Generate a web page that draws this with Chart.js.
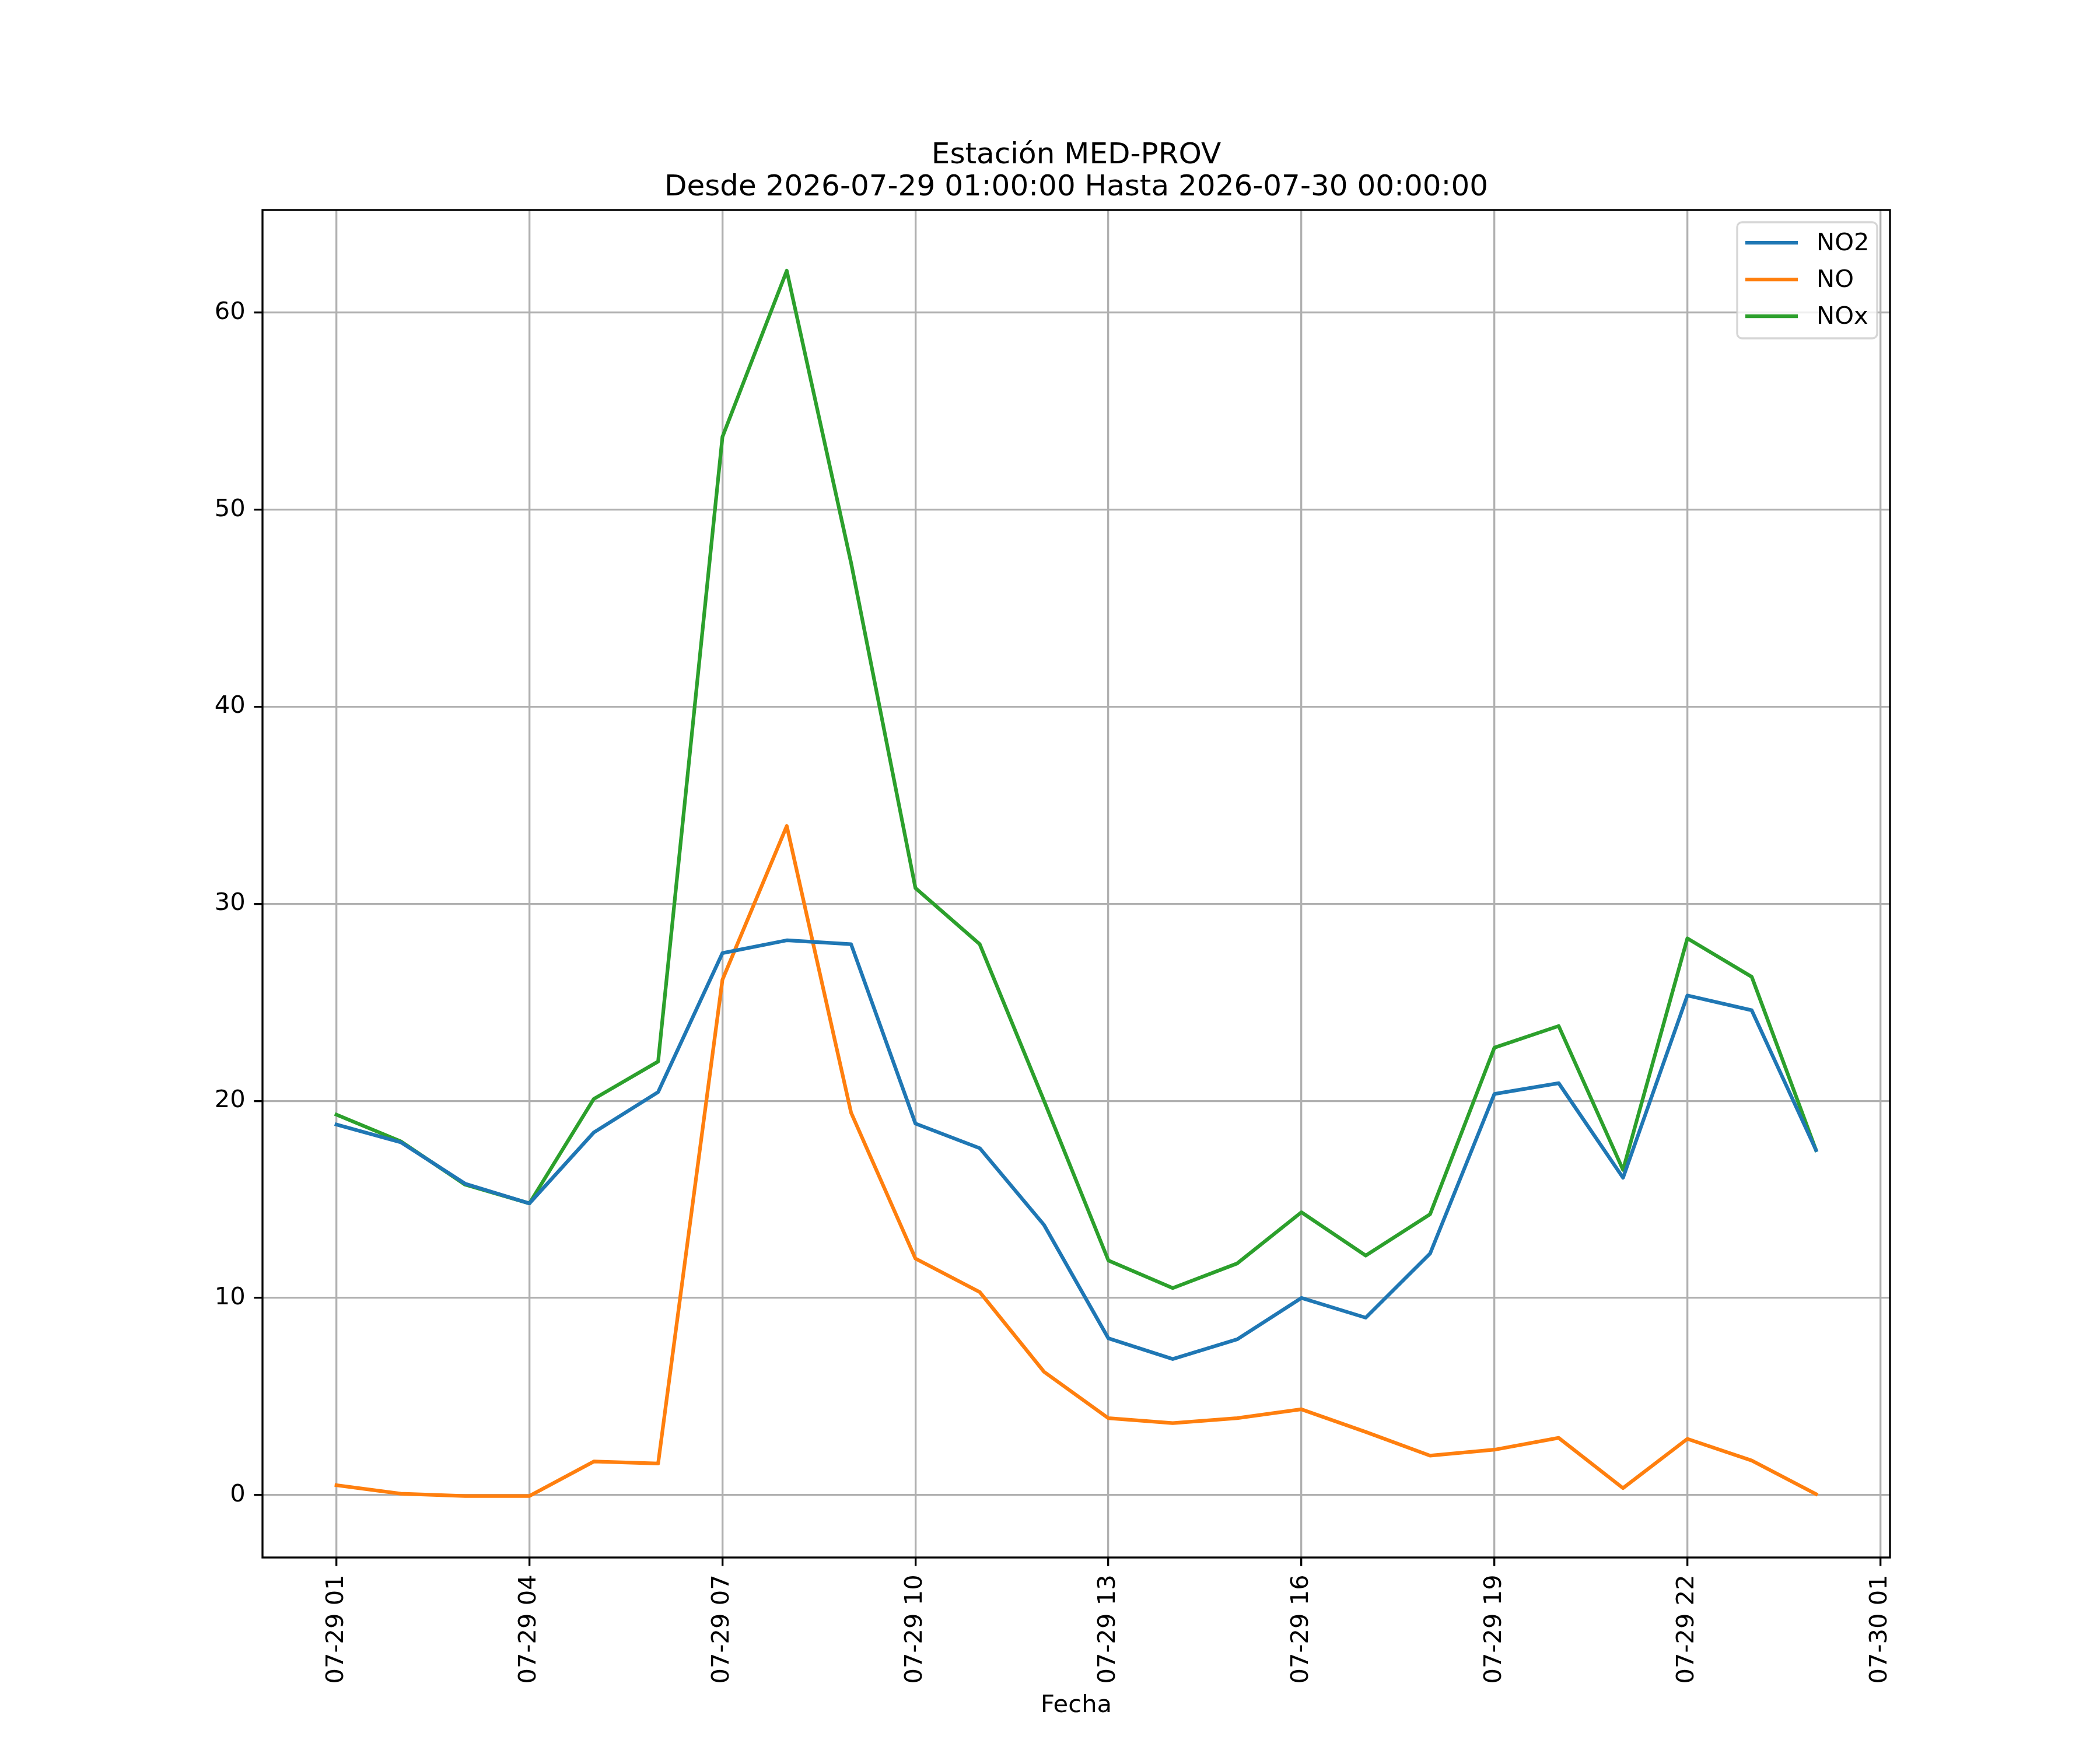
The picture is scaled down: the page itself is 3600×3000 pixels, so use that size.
<!DOCTYPE html>
<html>
<head>
<meta charset="utf-8">
<script src="https://cdn.jsdelivr.net/npm/chart.js@4.4.1/dist/chart.umd.min.js"></script>
<style>
  html, body { margin: 0; padding: 0; background: #fff; }
  #wrap { width: 3600px; height: 3000px; }
</style>
</head>
<body>
<div id="wrap"><canvas id="chart" width="3600" height="3000"></canvas></div>
<script>
// hours since 07-29 00:00
const hours = [1,2,3,4,5,6,7,8,9,10,11,12,13,14,15,16,17,18,19,20,21,22,23,24];
const no2 = [18.8,17.9,15.8,14.8,18.4,20.45,27.5,28.15,27.95,18.85,17.6,13.7,7.95,6.9,7.9,10.0,9.0,12.25,20.35,20.9,16.1,25.35,24.6,17.5];
const no  = [0.5,0.07,-0.05,-0.05,1.7,1.6,26.15,33.95,19.4,12.0,10.3,6.25,3.9,3.65,3.9,4.35,3.2,2.0,2.3,2.9,0.35,2.85,1.75,0.05];
const nox = [19.3,17.95,15.75,14.8,20.1,22.0,53.7,62.13,47.3,30.8,27.95,20.0,11.9,10.5,11.75,14.35,12.15,14.25,22.7,23.8,16.5,28.25,26.3,17.5];

const seriesNames = ['NO2', 'NO', 'NOx'];
const seriesColors = ['#1f77b4', '#ff7f0e', '#2ca02c'];

const xTickHours = [1,4,7,10,13,16,19,22,25];
const xTickLabels = ['07-29 01','07-29 04','07-29 07','07-29 10','07-29 13','07-29 16','07-29 19','07-29 22','07-30 01'];
const yTicks = [0,10,20,30,40,50,60];

const titleLines = ['Estación MED-PROV', 'Desde 2026-07-29 01:00:00 Hasta 2026-07-30 00:00:00'];
const xTitle = 'Fecha';

const FONT = 'DejaVu Sans';
const PT = 300 / 72;

function pts(vals) {
  return hours.map((h, i) => ({ x: h, y: vals[i] }));
}

// white background, spines, title, x label and legend (matplotlib look)
const decor = {
  id: 'decor',
  beforeDraw(chart) {
    const c = chart.ctx;
    c.save();
    c.fillStyle = '#fff';
    c.fillRect(0, 0, chart.width, chart.height);
    c.restore();
  },
  afterDatasetsDraw(chart) {
    const c = chart.ctx;
    const a = chart.chartArea;
    c.save();
    // spines
    c.strokeStyle = '#000';
    c.lineWidth = 0.8 * PT;
    c.strokeRect(a.left, a.top, a.right - a.left, a.bottom - a.top);

    // title
    c.fillStyle = '#000';
    c.font = (12 * PT) + 'px "' + FONT + '"';
    c.textAlign = 'center';
    c.textBaseline = 'alphabetic';
    const cx = (a.left + a.right) / 2;
    c.fillText(titleLines[0], cx, 280);
    c.fillText(titleLines[1], cx, 335);

    // x label
    c.font = (10 * PT) + 'px "' + FONT + '"';
    c.textBaseline = 'alphabetic';
    c.fillText(xTitle, cx, 2935);

    // legend
    const bx = 2978, by = 381, bw = 240, bh = 199, r = 0.2 * 10 * PT;
    c.beginPath();
    c.roundRect(bx, by, bw, bh, r);
    c.fillStyle = 'rgba(255,255,255,0.8)';
    c.fill();
    c.strokeStyle = 'rgba(204,204,204,0.8)';
    c.lineWidth = 0.8 * PT;
    c.stroke();
    c.textAlign = 'left';
    c.textBaseline = 'middle';
    chart.data.datasets.forEach((ds, i) => {
      const y = 416 + i * 63;
      c.strokeStyle = ds.borderColor;
      c.lineWidth = 1.5 * PT;
      c.beginPath();
      c.moveTo(2992, y);
      c.lineTo(3082, y);
      c.stroke();
      c.fillStyle = '#000';
      c.fillText(ds.label, 3114, y + 2);
    });
    c.restore();
  }
};

new Chart(document.getElementById('chart'), {
  type: 'line',
  data: {
    datasets: seriesNames.map((name, i) => ({
      label: name,
      data: pts([no2, no, nox][i]),
      borderColor: seriesColors[i],
      backgroundColor: seriesColors[i],
      borderWidth: 1.5 * PT,
      pointRadius: 0,
      tension: 0,
      borderJoinStyle: 'round',
      borderCapStyle: 'square'
    }))
  },
  options: {
    responsive: false,
    animation: false,
    devicePixelRatio: 1,
    layout: { padding: { top: 360, right: 360, left: 0, bottom: 0 } },
    plugins: {
      legend: { display: false },
      title: { display: false },
      tooltip: { enabled: false }
    },
    scales: {
      x: {
        type: 'linear',
        min: -0.15,
        max: 25.15,
        afterBuildTicks: s => { s.ticks = xTickHours.map(v => ({ value: v })); },
        afterFit: s => { s.height = 330; },
        ticks: {
          autoSkip: false,
          minRotation: 90,
          maxRotation: 90,
          padding: 3.5 * PT,
          color: '#000',
          font: { family: FONT, size: 10 * PT },
          callback: v => xTickLabels[xTickHours.indexOf(v)]
        },
        grid: {
          color: '#b0b0b0',
          lineWidth: 0.8 * PT,
          tickColor: '#000',
          tickLength: 3.5 * PT,
          tickWidth: 0.8 * PT
        },
        border: { display: false }
      },
      y: {
        type: 'linear',
        min: -3.17,
        max: 65.21,
        afterBuildTicks: s => { s.ticks = yTicks.map(v => ({ value: v })); },
        afterFit: s => { s.width = 450; },
        ticks: {
          padding: 3.5 * PT,
          color: '#000',
          font: { family: FONT, size: 10 * PT },
          callback: v => String(v)
        },
        grid: {
          color: '#b0b0b0',
          lineWidth: 0.8 * PT,
          tickColor: '#000',
          tickLength: 3.5 * PT,
          tickWidth: 0.8 * PT
        },
        border: { display: false }
      }
    }
  },
  plugins: [decor]
});
</script>
</body>
</html>
